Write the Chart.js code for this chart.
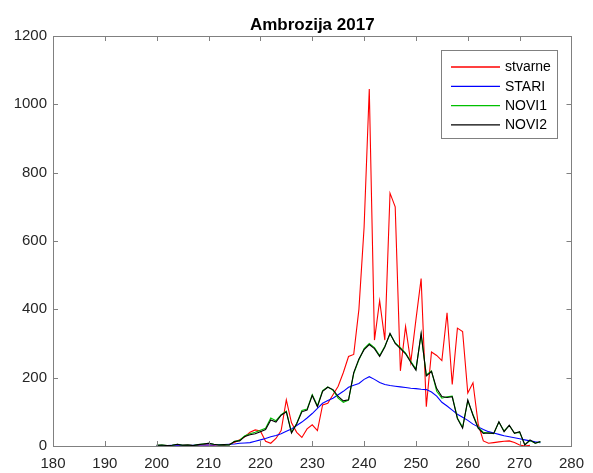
<!DOCTYPE html>
<html>
<head>
<meta charset="utf-8">
<title>Ambrozija 2017</title>
<script src="https://cdn.jsdelivr.net/npm/chart.js@4.4.1/dist/chart.umd.min.js"></script>
<style>
    html, body { margin: 0; padding: 0; background: #fff; }
    canvas { display: block; }
</style>
</head>
<body>
<canvas id="pollenChart" width="593" height="473"></canvas>
<script>
// day of year
const days = [
    200, 201, 202, 203, 204, 205, 206, 207, 208, 209,
    210, 211, 212, 213, 214, 215, 216, 217, 218, 219,
    220, 221, 222, 223, 224, 225, 226, 227, 228, 229,
    230, 231, 232, 233, 234, 235, 236, 237, 238, 239,
    240, 241, 242, 243, 244, 245, 246, 247, 248, 249,
    250, 251, 252, 253, 254, 255, 256, 257, 258, 259,
    260, 261, 262, 263, 264, 265, 266, 267, 268, 269,
    270, 271, 272, 273, 274
];

// measured concentrations
const stvarne = [
    0, 0, 0, 0, 0, 2, 3, 1, 2, 4,
    3, 2, 4, 3, 5, 10, 18, 27, 40, 47,
    44, 14, 8, 22, 45, 135, 68, 40, 25, 50,
    62, 45, 120, 125, 150, 175, 215, 262, 268, 400,
    640, 1045, 310, 425, 310, 740, 700, 220, 350, 245,
    370, 490, 115, 275, 265, 250, 390, 180, 345, 335,
    155, 185, 65, 15, 8, 10, 12, 14, 15, 10,
    3, 0, 2, null, null
];

// old model
const stari = [
    1, 1, 1, 2, 2, 2, 2, 2, 3, 3,
    3, 3, 4, 4, 5, 6, 8, 9, 10, 14,
    18, 22, 27, 31, 36, 43, 50, 60, 70, 82,
    95, 110, 125, 133, 140, 150, 160, 172, 178, 183,
    195, 203, 195, 186, 180, 177, 175, 173, 171, 169,
    168, 166, 165, 158, 146, 128, 117, 105, 93, 84,
    75, 64, 56, 48, 42, 38, 34, 30, 27, 24,
    21, 18, 15, 12, 10
];

// new models
const novi1 = [
    2, 3, 1, 2, 5, 2, 3, 1, 4, 6,
    8, 5, 3, 4, 3, 14, 17, 30, 36, 40,
    46, 52, 82, 74, 92, 102, 40, 66, 104, 108,
    150, 118, 162, 173, 163, 140, 128, 134, 212, 252,
    285, 300, 288, 265, 292, 328, 302, 288, 272, 248,
    225, 326, 208, 220, 160, 140, 144, 146, 82, 55,
    132, 92, 55, 40, 38, 36, 70, 44, 60, 38,
    40, 4, 16, 8, 12
];

const novi2 = [
    2, 3, 1, 2, 5, 2, 3, 1, 4, 6,
    8, 5, 3, 4, 3, 13, 15, 28, 33, 36,
    42, 48, 76, 70, 90, 100, 38, 65, 100, 105,
    148, 115, 160, 172, 165, 145, 132, 135, 215, 255,
    282, 297, 285, 262, 290, 330, 300, 285, 270, 245,
    222, 330, 205, 218, 168, 145, 142, 144, 80, 52,
    135, 90, 52, 37, 38, 37, 71, 42, 61, 37,
    42, 3, 18, 8, 13
];

const seriesNames = ["stvarne", "STARI", "NOVI1", "NOVI2"];
const seriesColors = ["#ff0000", "#0000ff", "#00c000", "#000000"];

const xTicks = [180, 280, 10];
const yTicks = [0, 1200, 200];

const TITLE = "Ambrozija 2017";
const FONT = "'Liberation Sans', Arial, Helvetica, sans-serif";
const AXIS_GRAY = "#808080";

function toPoints(values) {
    return days.map((d, i) => ({ x: d, y: values[i] }));
}

// box around the plot plus inward tick marks on all four sides,
// title centred over the plot area
const axesBox = {
    id: "axesBox",
    afterDatasetsDraw(chart) {
        const { ctx, chartArea: a, scales } = chart;
        ctx.save();
        ctx.strokeStyle = AXIS_GRAY;
        ctx.lineWidth = 1;
        ctx.beginPath();
        scales.x.ticks.forEach(t => {
            const px = Math.round(scales.x.getPixelForValue(t.value)) + 0.5;
            ctx.moveTo(px, a.bottom);
            ctx.lineTo(px, a.bottom - 5);
            ctx.moveTo(px, a.top);
            ctx.lineTo(px, a.top + 5);
        });
        scales.y.ticks.forEach(t => {
            const py = Math.round(scales.y.getPixelForValue(t.value)) + 0.5;
            ctx.moveTo(a.left, py);
            ctx.lineTo(a.left + 5, py);
            ctx.moveTo(a.right, py);
            ctx.lineTo(a.right - 5, py);
        });
        ctx.stroke();
        ctx.strokeRect(Math.round(a.left) + 0.5, Math.round(a.top) + 0.5,
            Math.round(a.right - a.left), Math.round(a.bottom - a.top));

        ctx.fillStyle = "#000";
        ctx.font = "bold 17px " + FONT;
        ctx.textAlign = "center";
        ctx.textBaseline = "middle";
        ctx.fillText(TITLE, (a.left + a.right) / 2, a.top - 11);
        ctx.restore();
    }
};

// legend box in the upper right corner
const boxLegend = {
    id: "boxLegend",
    afterDraw(chart) {
        const ctx = chart.ctx;
        const a = chart.chartArea;
        const left = Math.round(a.right) - 130, top = Math.round(a.top) + 14, w = 116, h = 88;
        ctx.save();
        ctx.fillStyle = "#fff";
        ctx.fillRect(left, top, w, h);
        ctx.strokeStyle = AXIS_GRAY;
        ctx.lineWidth = 1;
        ctx.strokeRect(left + 0.5, top + 0.5, w, h);
        ctx.font = "14px " + FONT;
        ctx.textBaseline = "middle";
        ctx.textAlign = "left";
        seriesNames.forEach((name, i) => {
            const y = top + 17 + i * 19.3;
            ctx.strokeStyle = seriesColors[i];
            ctx.lineWidth = 1.3;
            ctx.beginPath();
            ctx.moveTo(left + 10, y);
            ctx.lineTo(left + 59, y);
            ctx.stroke();
            ctx.fillStyle = "#000";
            ctx.fillText(name, left + 64, y + 0.5);
        });
        ctx.restore();
    }
};

const allSeries = [stvarne, stari, novi1, novi2];

new Chart(document.getElementById("pollenChart"), {
    type: "line",
    data: {
        datasets: allSeries.map((vals, i) => ({
            label: seriesNames[i],
            data: toPoints(vals),
            borderColor: seriesColors[i],
            borderWidth: 1.1,
            pointRadius: 0,
            tension: 0,
            spanGaps: false,
            order: allSeries.length - i
        }))
    },
    options: {
        responsive: false,
        animation: false,
        devicePixelRatio: 1,
        layout: { padding: { left: 0, right: 20, top: 36, bottom: 0 } },
        plugins: {
            legend: { display: false },
            tooltip: { enabled: false },
            title: { display: false }
        },
        scales: {
            x: {
                type: "linear",
                min: xTicks[0],
                max: xTicks[1],
                ticks: {
                    stepSize: xTicks[2],
                    color: "#262626",
                    font: { family: FONT, size: 15 },
                    padding: 9,
                    maxRotation: 0,
                    autoSkip: false,
                    callback: v => String(v)
                },
                grid: { display: false, drawTicks: false },
                border: { display: false },
                afterFit(scale) { scale.height = 27; }
            },
            y: {
                min: yTicks[0],
                max: yTicks[1],
                ticks: {
                    stepSize: yTicks[2],
                    color: "#262626",
                    font: { family: FONT, size: 15 },
                    padding: 6,
                    callback: v => String(v)
                },
                grid: { display: false, drawTicks: false },
                border: { display: false },
                afterFit(scale) { scale.width = 53; }
            }
        }
    },
    plugins: [axesBox, boxLegend]
});
</script>
</body>
</html>
